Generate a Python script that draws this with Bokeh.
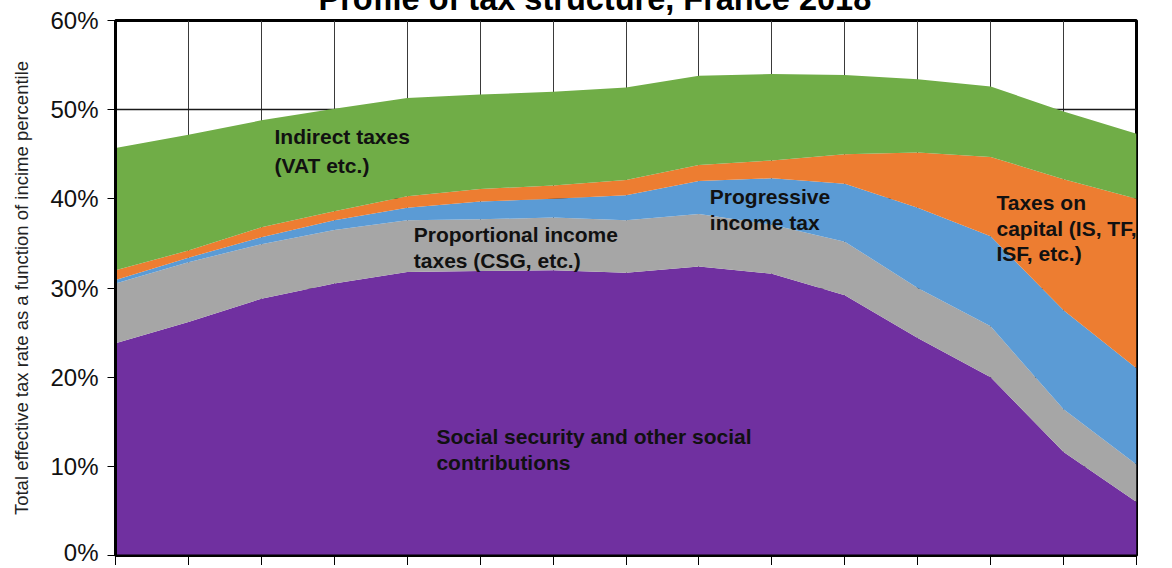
from bokeh.plotting import figure
from bokeh.models import ColumnDataSource, Range1d, FixedTicker, Label
from bokeh.embed import file_html
from bokeh.resources import INLINE

# ---- data (effective tax rate, % of income, by income percentile group) ----
percentile_idx = list(range(15))
social_security = [23.8, 26.2, 28.8, 30.5, 31.8, 31.9, 32.0, 31.7, 32.4, 31.6, 29.2, 24.4, 20.0, 11.6, 6.0]
proportional_income = [6.7, 6.7, 6.1, 6.0, 5.8, 5.8, 5.9, 5.9, 5.9, 5.5, 6.0, 5.6, 5.7, 4.8, 4.2]
progressive_income = [0.4, 0.5, 0.8, 1.1, 1.4, 2.0, 2.1, 2.8, 3.7, 5.2, 6.5, 9.0, 10.1, 11.1, 10.8]
capital_taxes = [1.1, 0.8, 1.1, 1.0, 1.3, 1.4, 1.5, 1.7, 1.8, 2.0, 3.3, 6.2, 8.9, 14.7, 19.0]
indirect_taxes = [13.7, 13.0, 12.0, 11.5, 11.0, 10.6, 10.5, 10.4, 10.0, 9.7, 8.9, 8.2, 7.9, 7.6, 7.3]

y_ticks = [0, 10, 20, 30, 40, 50, 60]
y_tick_labels = ["0%", "10%", "20%", "30%", "40%", "50%", "60%"]

title_text = "Profile of tax structure, France 2018"
y_axis_title = "Total effective tax rate as a function of incime percentile"
series_names = ["social", "proportional", "progressive", "capital", "indirect"]
series_colors = ["#7030A0", "#A6A6A6", "#5B9BD5", "#ED7D31", "#70AD47"]

source = ColumnDataSource(dict(
    x=percentile_idx,
    social=social_security,
    proportional=proportional_income,
    progressive=progressive_income,
    capital=capital_taxes,
    indirect=indirect_taxes,
))

FONT = "Liberation Sans"

p = figure(width=1156, height=605, output_backend="svg", toolbar_location=None,
           x_range=Range1d(0, 14), y_range=Range1d(0, 60),
           title=title_text,
           min_border_left=105, min_border_right=28, min_border_top=60, min_border_bottom=8,
           margin=(-40, 0, -12, 8))

p.title.align = "left"
p.title.offset = 203
p.title.standoff = 8
p.title.text_font = FONT
p.title.text_font_style = "bold"
p.title.text_font_size = "32.5px"
p.title.text_color = "black"

p.varea_stack(stackers=series_names, x="x", color=series_colors, source=source)

# axes
p.yaxis.ticker = FixedTicker(ticks=y_ticks)
p.yaxis.major_label_overrides = {t: l for t, l in zip(y_ticks, y_tick_labels)}
p.yaxis.major_label_text_font = FONT
p.yaxis.major_label_text_font_size = "24px"
p.yaxis.major_label_text_color = "#111111"
p.yaxis.major_label_standoff = 9
p.yaxis.major_tick_out = 8
p.yaxis.major_tick_in = 0
p.yaxis.major_tick_line_color = "black"
p.yaxis.minor_tick_line_color = None
p.yaxis.axis_line_color = "black"
p.yaxis.axis_line_width = 3
p.yaxis.axis_label = y_axis_title
p.yaxis.axis_label_text_font = FONT
p.yaxis.axis_label_text_font_size = "18.5px"
p.yaxis.axis_label_text_font_style = "normal"
p.yaxis.axis_label_text_color = "#222222"
p.yaxis.axis_label_standoff = 15

p.xaxis.ticker = FixedTicker(ticks=percentile_idx)
p.xaxis.major_label_overrides = {i: "" for i in percentile_idx}
p.xaxis.major_tick_out = 10
p.xaxis.major_tick_in = 0
p.xaxis.major_tick_line_color = "black"
p.xaxis.minor_tick_line_color = None
p.xaxis.axis_line_color = "black"
p.xaxis.axis_line_width = 2

# grid
p.xgrid.ticker = FixedTicker(ticks=percentile_idx)
p.ygrid.ticker = FixedTicker(ticks=y_ticks)
p.xgrid.grid_line_color = "#3a3a3a"
p.ygrid.grid_line_color = "#1a1a1a"
p.xgrid.grid_line_width = 1
p.ygrid.grid_line_width = 1.3

p.outline_line_color = "black"
p.outline_line_width = 3
p.background_fill_color = "white"
p.border_fill_color = "white"

# in-area annotations
def note(x, y, txt, lh=1.12):
    p.add_layout(Label(x=x, y=y, text=txt, text_align="left", text_baseline="top",
                       text_font=FONT, text_font_style="bold", text_font_size="21px",
                       text_color="#111111", text_line_height=lh))

note(2.18, 48.3, "Indirect taxes\n(VAT etc.)", lh=1.25)
note(4.09, 37.3, "Proportional income\ntaxes (CSG, etc.)")
note(8.15, 41.5, "Progressive\nincome tax")
note(12.08, 40.9, "Taxes on\ncapital (IS, TF,\nISF, etc.)")
note(4.40, 14.6, "Social security and other social\ncontributions")

open("out.html", "w").write(file_html(p, INLINE))
